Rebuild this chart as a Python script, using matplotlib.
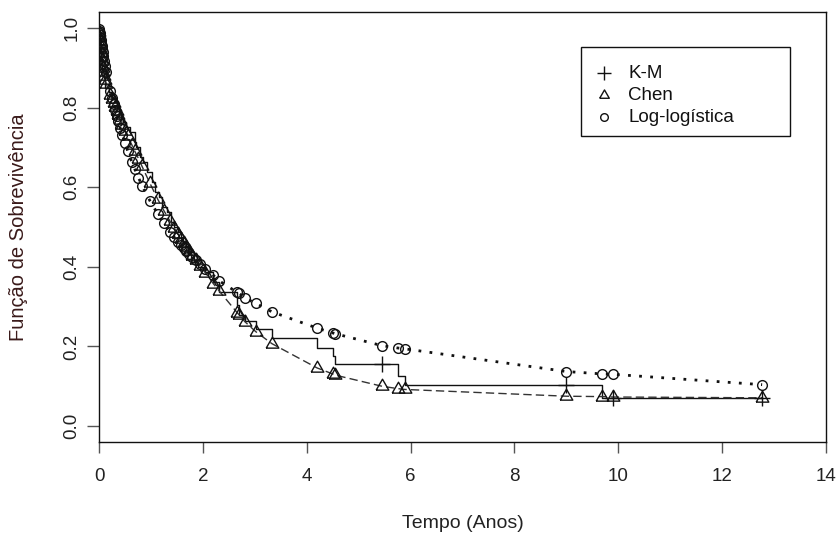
import matplotlib
matplotlib.use("Agg")
import matplotlib.pyplot as plt
from matplotlib.patches import Rectangle
from matplotlib import font_manager

# ---------------- data ----------------
obs_times = [0.003, 0.008, 0.012, 0.018, 0.025, 0.033, 0.042, 0.05, 0.06, 0.07,
             0.085, 0.10, 0.12, 0.14, 0.22, 0.25, 0.28, 0.31, 0.34, 0.37,
             0.41, 0.45, 0.50, 0.55, 0.63, 0.69, 0.76, 0.83, 0.98, 1.13,
             1.25, 1.37, 1.45, 1.52, 1.58, 1.63, 1.68, 1.74, 1.80, 1.86,
             1.94, 2.05, 2.20, 2.31, 2.66, 2.70, 2.81, 3.02, 3.33, 4.20,
             4.50, 4.55, 5.45, 5.76, 5.89, 9.00, 9.69, 9.90, 12.77]

chen_surv = [0.990, 0.978, 0.968, 0.957, 0.946, 0.936, 0.926, 0.917, 0.908, 0.900,
             0.889, 0.880, 0.869, 0.860, 0.832, 0.822, 0.812, 0.802, 0.792, 0.782,
             0.769, 0.757, 0.742, 0.728, 0.707, 0.690, 0.672, 0.652, 0.610, 0.570,
             0.541, 0.514, 0.497, 0.482, 0.470, 0.460, 0.450, 0.439, 0.428, 0.417,
             0.403, 0.385, 0.358, 0.340, 0.285, 0.279, 0.262, 0.237, 0.207, 0.146,
             0.131, 0.128, 0.100, 0.094, 0.092, 0.075, 0.074, 0.073, 0.071]

loglog_surv = [0.997, 0.992, 0.988, 0.982, 0.976, 0.969, 0.962, 0.955, 0.947, 0.940,
               0.929, 0.918, 0.904, 0.890, 0.842, 0.825, 0.809, 0.794, 0.779, 0.765,
               0.748, 0.731, 0.711, 0.692, 0.664, 0.645, 0.624, 0.604, 0.566, 0.533,
               0.509, 0.488, 0.474, 0.463, 0.454, 0.447, 0.440, 0.432, 0.424, 0.417,
               0.407, 0.395, 0.379, 0.365, 0.336, 0.333, 0.322, 0.308, 0.287, 0.246,
               0.234, 0.232, 0.202, 0.196, 0.194, 0.137, 0.131, 0.130, 0.104]

km_times = [0.0, 0.005, 0.010, 0.015, 0.020, 0.030, 0.040, 0.050, 0.065, 0.080,
            0.100, 0.120, 0.200, 0.250, 0.300, 0.340, 0.380, 0.420, 0.470, 0.520,
            0.600, 0.690, 0.720, 0.790, 0.850, 0.920, 1.020, 1.080, 1.150, 1.220,
            1.300, 1.380, 1.450, 1.520, 1.570, 1.620, 1.670, 1.720, 1.770, 1.830,
            1.900, 2.050, 2.200, 2.310, 2.660, 2.700, 2.810, 3.020, 3.330, 4.200,
            4.500, 4.550, 5.760, 5.890, 9.690, 12.77]
km_surv = [1.000, 0.988, 0.975, 0.963, 0.950, 0.938, 0.925, 0.913, 0.900, 0.888,
           0.875, 0.850, 0.838, 0.825, 0.813, 0.800, 0.788, 0.775, 0.763, 0.750,
           0.738, 0.713, 0.700, 0.675, 0.663, 0.638, 0.613, 0.588, 0.575, 0.550,
           0.538, 0.513, 0.500, 0.488, 0.475, 0.463, 0.450, 0.438, 0.425, 0.413,
           0.400, 0.388, 0.363, 0.338, 0.305, 0.278, 0.265, 0.245, 0.222, 0.197,
           0.177, 0.157, 0.126, 0.104, 0.070, 0.070]

cens_times = [5.45, 9.00, 9.90, 12.77]
cens_surv = [0.157, 0.104, 0.070, 0.070]

x_ticks = [0, 2, 4, 6, 8, 10, 12, 14]
y_ticks = [0.0, 0.2, 0.4, 0.6, 0.8, 1.0]
legend_labels = ["K-M", "Chen", "Log-logística"]
x_label = "Tempo (Anos)"
y_label = "Função de Sobrevivência"

# ---------------- fonts ----------------
names = {f.name for f in font_manager.fontManager.ttflist}
base_font = "Liberation Sans" if "Liberation Sans" in names else "DejaVu Sans"
narrow_font = "Liberation Sans Narrow" if "Liberation Sans Narrow" in names else base_font
plt.rcParams["font.family"] = [base_font, "DejaVu Sans"]

# ---------------- figure ----------------
W, H = 838, 538
fig = plt.figure(figsize=(W / 100, H / 100), dpi=100)
L, R, T, B = 99, 826, 12, 442
ax = fig.add_axes([L / W, 1 - B / H, (R - L) / W, (B - T) / H])

ax.set_xlim(0, 14)
ax.set_ylim(-0.04, 1.04)

# triangle marker (equilateral, like R pch=2)
tri = [(-1.0, -0.577), (1.0, -0.577), (0.0, 1.155), (-1.0, -0.577)]

ink = "#111111"
# Kaplan-Meier step curve
ax.step(km_times, km_surv, where="post", color=ink, lw=1.0, zorder=3)
ax.plot(cens_times, cens_surv, linestyle="none", marker="+", ms=11,
        mew=1.0, color=ink, zorder=4)

# Chen model
ax.plot(obs_times, chen_surv, color="#333333", lw=1.0, linestyle=(0, (6, 3)),
        marker=tri, ms=10.5, mfc="none", mec=ink, mew=1.0, zorder=3)

# Log-logistic model
ax.plot(obs_times, loglog_surv, color=ink, lw=2.0, linestyle=(0, (1, 3)),
        marker="o", ms=7, mfc="none", mec=ink, mew=1.0, zorder=3)

# axes styling
for s in ax.spines.values():
    s.set_color("#111111")
    s.set_linewidth(1.0)
ax.set_xticks(x_ticks)
ax.set_yticks(y_ticks)
ax.set_xticklabels([str(v) for v in x_ticks], fontsize=13.5, color="#222222",
                   family=[narrow_font, "DejaVu Sans"])
ax.set_yticklabels([f"{v:.1f}" for v in y_ticks], fontsize=13.5, color="#222222",
                   rotation=90, va="center")
ax.tick_params(axis="x", length=8, width=1.0, color="#555555", pad=11)
ax.tick_params(axis="y", length=8.5, width=1.0, color="#555555", pad=5)

ax.set_xlabel(x_label, fontsize=14, color="#222222",
              family=[narrow_font, "DejaVu Sans"])
ax.xaxis.set_label_coords(0.5, (B - 523) / (B - T))
ax.xaxis.label.set_va("center")
ax.set_ylabel(y_label, fontsize=14.5, color="#3a1a1a")
ax.yaxis.set_label_coords((18 - L) / (R - L), 0.5)
ax.yaxis.label.set_va("center")

# legend (drawn as a box with sample markers)
lx0, lx1 = (581 - L) / (R - L), (790 - L) / (R - L)
ly1, ly0 = (B - 47) / (B - T), (B - 136) / (B - T)
ax.add_patch(Rectangle((lx0, ly0), lx1 - lx0, ly1 - ly0, transform=ax.transAxes,
                       fill=False, edgecolor="#111111", lw=1.0, zorder=5))
rows = [(B - 73) / (B - T), (B - 95) / (B - T), (B - 117) / (B - T)]
mx = (604 - L) / (R - L)
tx = (628 - L) / (R - L)
ax.plot([mx], [rows[0]], transform=ax.transAxes, marker="+", ms=10, mew=1.0,
        color=ink, zorder=6)
ax.plot([mx], [rows[1]], transform=ax.transAxes, marker=tri, ms=8, mfc="none",
        mec=ink, mew=1.0, zorder=6)
ax.plot([mx], [rows[2]], transform=ax.transAxes, marker="o", ms=5.5, mfc="none",
        mec=ink, mew=1.0, zorder=6)
for yy, lab in zip(rows, legend_labels):
    ax.text(tx, yy, lab, transform=ax.transAxes, fontsize=13.5, va="center",
            ha="left", color="#111111", zorder=6)

fig.savefig("out.png", dpi=100)
